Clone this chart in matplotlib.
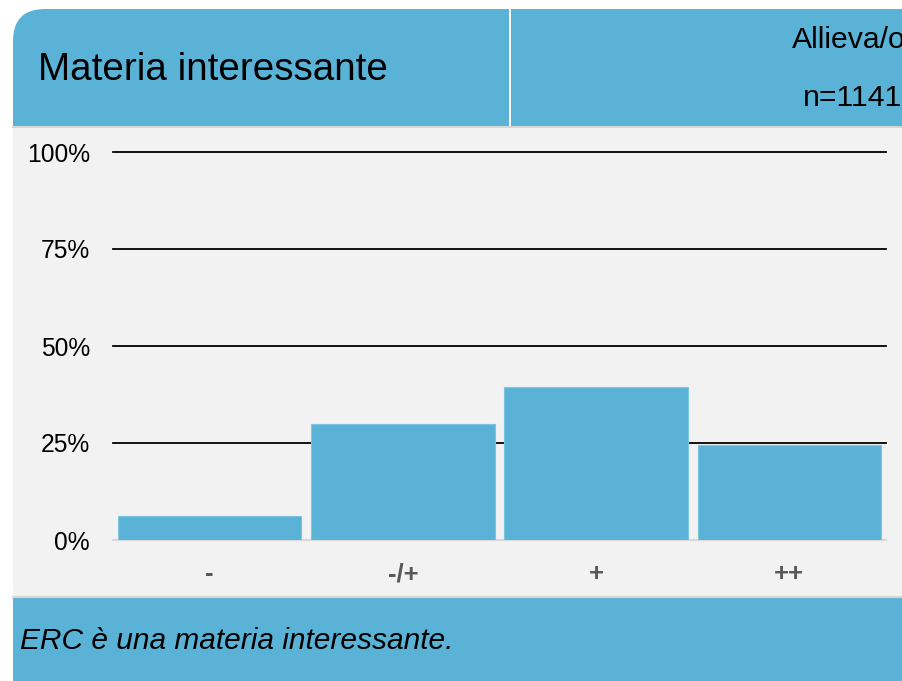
import matplotlib
matplotlib.use("Agg")
import matplotlib.pyplot as plt
from matplotlib.patches import Rectangle, FancyBboxPatch

plt.rcParams["font.family"] = ["Liberation Sans", "DejaVu Sans"]

# data
categories = ["-", "-/+", "+", "++"]
shares = [6.2, 29.9, 39.5, 24.6]          # percent of respondents
yticks = [0, 25, 50, 75, 100]
title = "Materia interessante"
group_label = "Allieva/o"
n_label = "n=1141"
statement = "ERC è una materia interessante."

W, H = 902, 681
BLUE = "#5ab3d6"
GRAY_BG = "#f2f2f2"

fig = plt.figure(figsize=(W / 100, H / 100), dpi=100)
fig.patch.set_facecolor("white")

# background layer in pixel coordinates
bg = fig.add_axes([0, 0, 1, 1])
bg.set_xlim(0, W); bg.set_ylim(H, 0); bg.axis("off")

bg.add_patch(Rectangle((13, 126), W - 13, 472, fc=GRAY_BG, ec="none"))
# header with rounded top-left corner
bg.add_patch(FancyBboxPatch((13, 9), W + 60 - 13, 117, boxstyle="round,pad=0,rounding_size=32",
                            fc=BLUE, ec="none"))
bg.add_patch(Rectangle((13, 60), W - 13, 66, fc=BLUE, ec="none"))
bg.add_patch(Rectangle((509, 9), 2, 117, fc="white", ec="none"))
bg.plot([13, W], [126.5, 126.5], color="#d6d6d6", lw=1.5)
# footer
bg.add_patch(Rectangle((13, 598), W - 13, H - 598, fc=BLUE, ec="none"))
bg.plot([13, W], [597, 597], color="#d6d6d6", lw=1.5)

bg.text(38, 70, title, fontsize=27.8, va="center", ha="left", color="black")
# the reference cuts this label off at the right edge as well
bg.text(792, 40, group_label, fontsize=21.7, va="center", ha="left", color="black", clip_on=True)
bg.text(803, 98, n_label, fontsize=21.7, va="center", ha="left", color="black", clip_on=True)
bg.text(20, 641, statement, fontsize=21.5, style="italic", va="center", ha="left", color="black")

# chart
ax = fig.add_axes([113 / W, (H - 540) / H, (886 - 113) / W, 388 / H])
ax.set_facecolor("none")
x = range(len(categories))
for yv in yticks[1:]:
    ax.axhline(yv, color="black", lw=1.3, zorder=1, clip_on=False)
ax.axhline(0, color="#d9d9d9", lw=1.5, zorder=1, clip_on=False)
ax.bar(x, shares, width=0.95, color=BLUE, edgecolor="#7cc6e2", lw=0.8, zorder=2)
ax.set_xlim(-0.5, len(categories) - 0.5)
ax.set_ylim(0, 100)
ax.set_yticks(yticks)
ax.set_yticklabels([f"{v}%" for v in yticks], fontsize=17.7, color="black")
ax.set_xticks(list(x))
ax.set_xticklabels(categories, fontsize=18.5, fontweight="bold", color="#595959")
ax.tick_params(length=0)
ax.tick_params(axis="y", pad=16.5)
ax.tick_params(axis="x", pad=16)
for s in ax.spines.values():
    s.set_visible(False)

fig.savefig("out.png", dpi=100)
